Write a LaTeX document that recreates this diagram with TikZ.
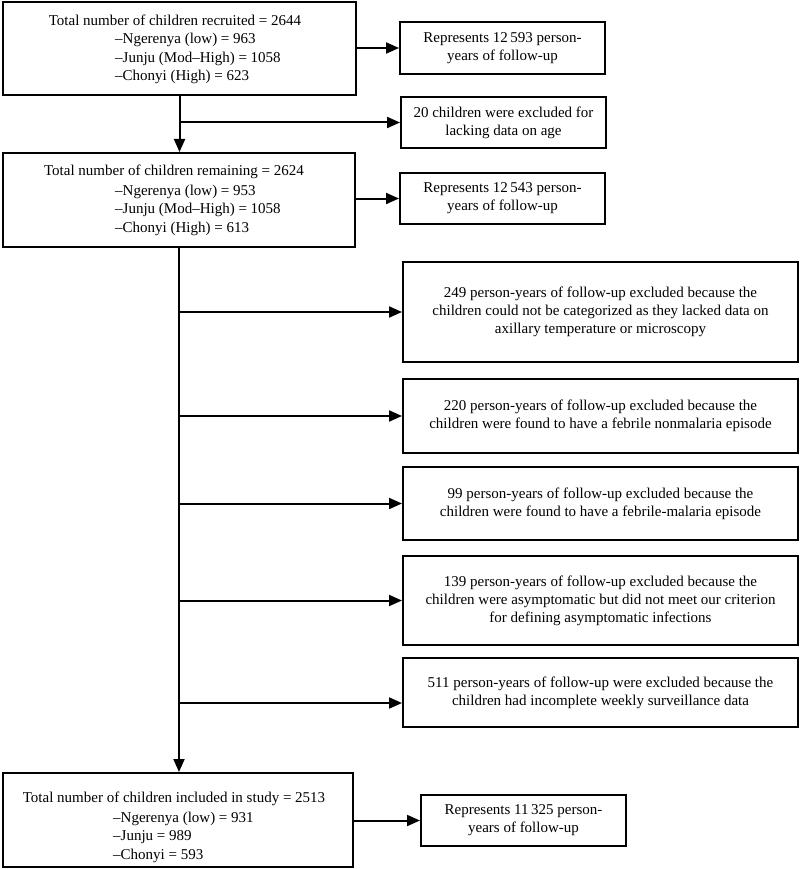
\documentclass[tikz,border=0pt]{standalone}
\usepackage{fontspec}
\setmainfont{Liberation Serif}
\usetikzlibrary{arrows.meta}
\begin{document}
\begin{tikzpicture}[x=1pt,y=-1pt,
  box/.style={draw, line width=2pt, rectangle, inner sep=0pt, font=\fontsize{15}{18}\selectfont, align=center},
  txt/.style={font=\fontsize{15}{18.5}\selectfont, inner sep=0pt},
  arr/.style={line width=2pt, -{Triangle[length=13pt,width=11pt]}}]
\useasboundingbox (0,0) rectangle (800,869);
\fill[white] (0,0) rectangle (800,869);
% main boxes
\node[box, minimum width=353pt, minimum height=93pt] (b1) at (179.5,48.5) {};
\node[txt] (t1) at (175,20) {Total number of children recruited = 2644};
\node[txt, align=left, anchor=west] (s1) at (115,58.5) {–Ngerenya (low) = 963\\–Junju (Mod–High) = 1058\\–Chonyi (High) = 623};

\node[box, minimum width=352pt, minimum height=94pt] (b2) at (179,200) {};
\node[txt] (t2) at (174,172) {Total number of children remaining = 2624};
\node[txt, align=left, anchor=west] (s2) at (115,210) {–Ngerenya (low) = 953\\–Junju (Mod–High) = 1058\\–Chonyi (High) = 613};

\node[box, minimum width=350pt, minimum height=94pt] (b3) at (178,820) {};
\node[txt] (t3) at (174,799) {Total number of children included in study = 2513};
\node[txt, align=left, anchor=west] (s3) at (113,837) {–Ngerenya (low) = 931\\–Junju = 989\\–Chonyi = 593};

% right boxes
\node[box, minimum width=205pt, minimum height=52pt] (r1) at (502.5,48) {Represents 12\,593 person-\\years of follow-up};
\node[box, minimum width=205pt, minimum height=51pt] (age) at (503.5,122.5) {20 children were excluded for\\lacking data on age};
\node[box, minimum width=205pt, minimum height=51pt] (r2) at (502.5,198.5) {Represents 12\,543 person-\\years of follow-up};
\node[box, minimum width=205pt, minimum height=51pt] (r3) at (523.5,820.5) {Represents 11\,325 person-\\years of follow-up};

% exclusion boxes
\node[box, minimum width=395pt, minimum height=100pt] (eA) at (600.5,312) {249 person-years of follow-up excluded because the\\children could not be categorized as they lacked data on\\axillary temperature or microscopy};
\node[box, minimum width=395pt, minimum height=74pt] (eB) at (600.5,416) {220 person-years of follow-up excluded because the\\children were found to have a febrile nonmalaria episode};
\node[box, minimum width=395pt, minimum height=73pt] (eC) at (600.5,503.5) {99 person-years of follow-up excluded because the\\children were found to have a febrile-malaria episode};
\node[box, minimum width=395pt, minimum height=89pt] (eD) at (600.5,600.5) {139 person-years of follow-up excluded because the\\children were asymptomatic but did not meet our criterion\\for defining asymptomatic infections};
\node[box, minimum width=395pt, minimum height=69pt] (eE) at (600.5,692.5) {511 person-years of follow-up were excluded because the\\children had incomplete weekly surveillance data};

\coordinate (eEin) at ([yshift=-10.5pt]eE.west);

% connectors
\draw[arr] (b1.east |- r1.west) -- (r1.west);
\draw[arr] (b1.south) -- (b1.south |- b2.north);
\draw[arr] (b1.south |- age.west) -- (age.west);
\draw[arr] (b2.east |- r2.west) -- (r2.west);
\draw[arr] (b2.south) -- (b2.south |- b3.north);
\draw[arr] (b2.south |- eA.west) -- (eA.west);
\draw[arr] (b2.south |- eB.west) -- (eB.west);
\draw[arr] (b2.south |- eC.west) -- (eC.west);
\draw[arr] (b2.south |- eD.west) -- (eD.west);
\draw[arr] (b2.south |- eEin) -- (eEin);
\draw[arr] (b3.east |- r3.west) -- (r3.west);
\end{tikzpicture}
\end{document}
